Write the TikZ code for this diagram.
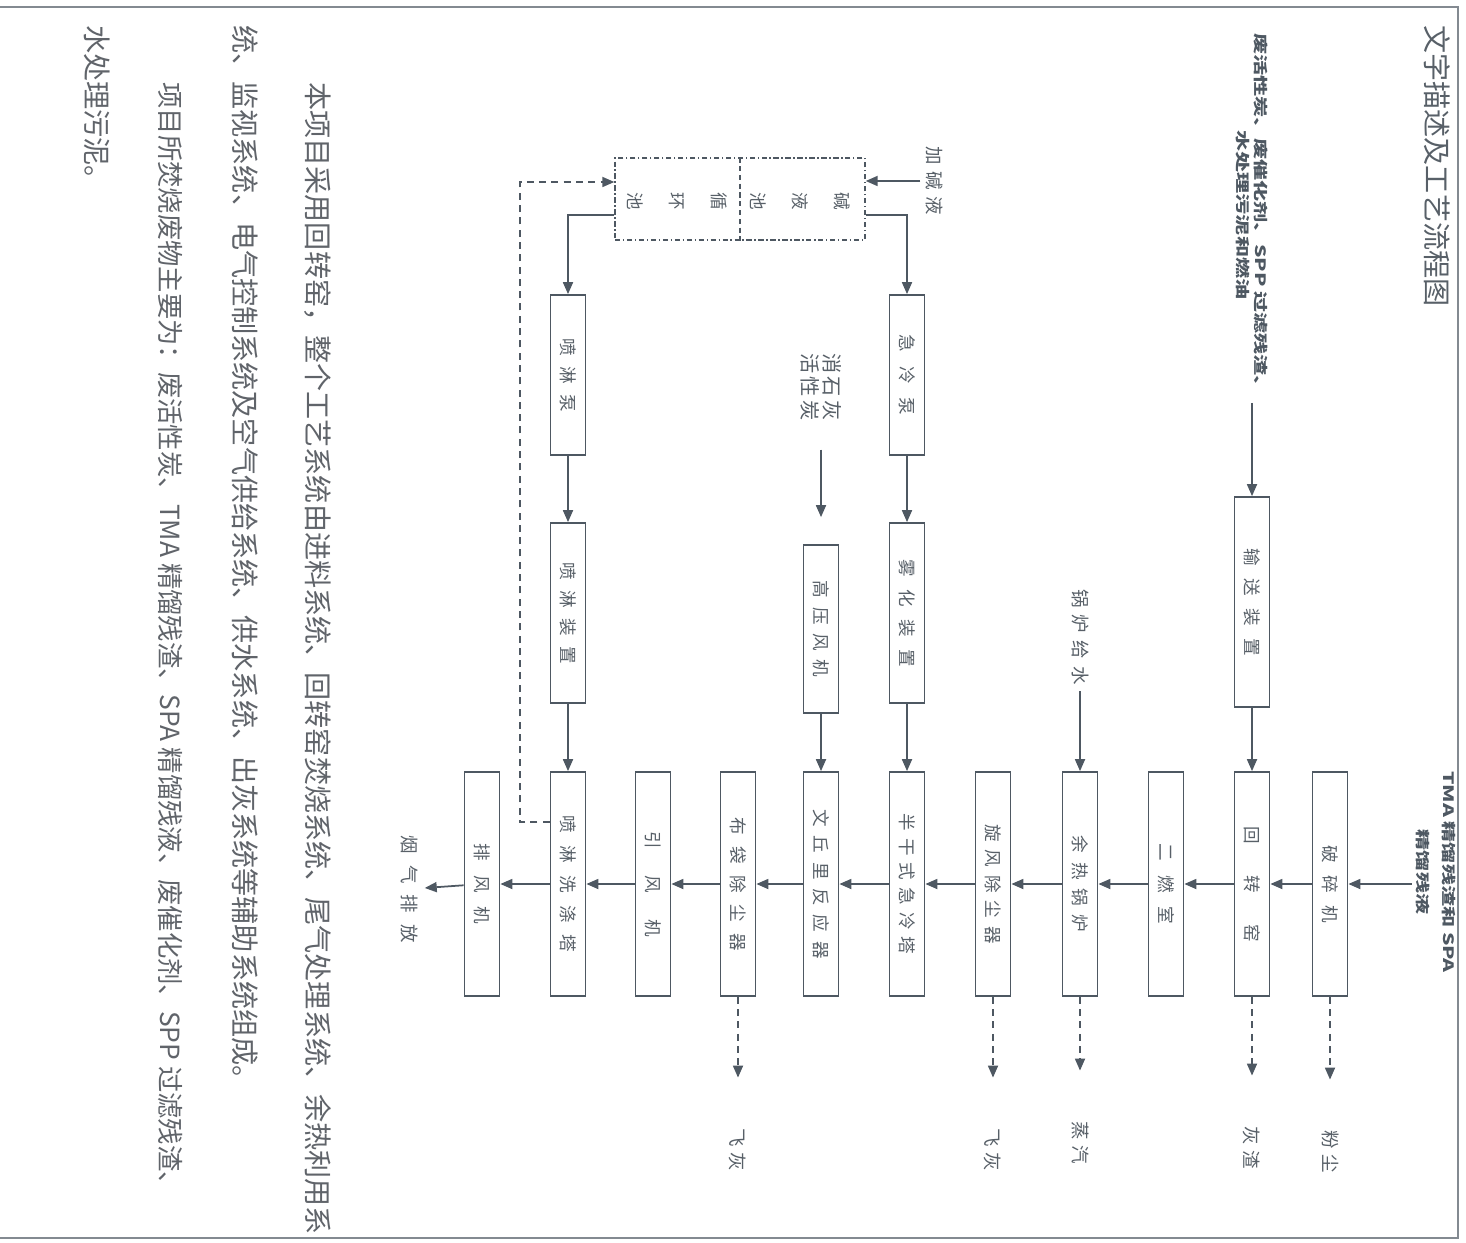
\documentclass[tikz,border=0pt]{standalone}
\usepackage{fontspec}
\setmainfont{Noto Sans CJK SC}
\usepackage{xcolor}
\usetikzlibrary{arrows.meta}
\definecolor{ink}{RGB}{78,88,98}
\definecolor{inktext}{RGB}{88,96,104}
\definecolor{bodytext}{RGB}{96,100,106}
\newcommand\gp[1]{\hspace{#1em}}

\begin{document}
\begin{tikzpicture}[x=0.02cm, y=-0.02cm,
  unit/.style={draw=ink, line width=1pt, rotate=-90, minimum height=0.7cm, inner sep=0pt, text=inktext, font=\fontsize{10}{12}\selectfont},
  flow/.style={draw=ink, line width=1pt, -{Triangle[length=2.4mm,width=2mm]}},
  outflow/.style={flow, dash pattern=on 4pt off 3pt, shorten >=0.9cm},
  lbl/.style={rotate=-90, text=inktext, font=\fontsize{10.5}{12}\selectfont},
  heavy/.style={rotate=-90, yscale=0.68, align=center, text=ink},
  para/.style={rotate=-90, anchor=west, inner sep=0pt, text=bodytext, font=\fontsize{16}{18}\selectfont}]
  \useasboundingbox (0,0) rectangle (1466,1243);
  \draw[ink!70, line width=0.8pt] (0,7) -- (1458,7) -- (1458,1238) -- (0,1238);

  \node[para, text=inktext] (title) at (1437,25) {文字描述及工艺流程图};

  \node[heavy, font=\bfseries\fontsize{12}{15}\selectfont] (flhx) at (1252,215) {废活性炭、废催化剂、SPP 过滤残渣、\\水处理污泥和燃油};
  \node[heavy, font=\bfseries\fontsize{12}{22}\selectfont] (tma) at (1436,872) {TMA 精馏残渣和 SPA\\精馏残液};

  \node[unit, minimum width=4.48cm] (pswj) at (1330,884) {破\gp{.7}碎\gp{.7}机};
  \node[unit, minimum width=4.48cm] (hzy) at (1252,884) {回\gp{1.8}转\gp{1.8}窑};
  \node[unit, minimum width=4.48cm] (erc) at (1166,884) {二\gp{.8}燃\gp{.8}室};
  \node[unit, minimum width=4.48cm] (yrgl) at (1080,884) {余\gp{.5}热\gp{.5}锅\gp{.5}炉};
  \node[unit, minimum width=4.48cm] (xfcc) at (993,884) {旋\gp{.45}风\gp{.45}除\gp{.45}尘\gp{.45}器};
  \node[unit, minimum width=4.48cm] (bgs) at (907,884) {半\gp{.4}干\gp{.4}式\gp{.4}急\gp{.4}冷\gp{.4}塔};
  \node[unit, minimum width=4.48cm] (wql) at (821,884) {文\gp{.5}丘\gp{.5}里\gp{.5}反\gp{.5}应\gp{.5}器};
  \node[unit, minimum width=4.48cm] (bdcc) at (738,884) {布\gp{.65}袋\gp{.65}除\gp{.65}尘\gp{.65}器};
  \node[unit, minimum width=4.48cm] (yfj) at (653,884) {引\gp{1.5}风\gp{1.5}机};
  \node[unit, minimum width=4.48cm] (plxd) at (568,884) {喷\gp{.7}淋\gp{.7}洗\gp{.7}涤\gp{.7}塔};
  \node[unit, minimum width=4.48cm] (pfj) at (482,884) {排\gp{.8}风\gp{.8}机};

  \node[unit, minimum width=4.2cm] (ssz) at (1252,602) {输\gp{.7}送\gp{.7}装\gp{.7}置};
  \node[unit, minimum width=3.2cm] (jlb) at (907,375) {急\gp{.8}冷\gp{.8}泵};
  \node[unit, minimum width=3.6cm] (whz) at (907,613) {雾\gp{.7}化\gp{.7}装\gp{.7}置};
  \node[unit, minimum width=3.36cm] (gyfj) at (821,629) {高\gp{.5}压\gp{.5}风\gp{.5}机};
  \node[unit, minimum width=3.2cm] (plb) at (568,375) {喷\gp{.6}淋\gp{.6}泵};
  \node[unit, minimum width=3.6cm] (plz) at (568,613) {喷\gp{.6}淋\gp{.6}装\gp{.6}置};

  \node[draw=ink, line width=0.8pt, dash pattern=on 3pt off 1.5pt on 0.8pt off 1.5pt, minimum width=5cm, minimum height=1.64cm, inner sep=0pt] (pool) at (740,199) {};
  \draw[ink, line width=0.8pt, dash pattern=on 3pt off 2pt] (pool.north) -- (pool.south);
  \node[lbl, align=center, font=\fontsize{10}{24}\selectfont] (jyc) at (800,201) {碱\\液\\池};
  \node[lbl, align=center, font=\fontsize{10}{24}\selectfont] (xhc) at (677,201) {循\\环\\池};

  \node[lbl] (jjy) at (935,181) {加\gp{.35}碱\gp{.35}液};
  \node[lbl, align=center, font=\fontsize{11.5}{12.5}\selectfont] (sshx) at (821,387) {消\gp{.15}石\gp{.15}灰\\活\gp{.15}性\gp{.15}炭};
  \node[lbl] (glgs) at (1080,637) {锅\gp{.4}炉\gp{.4}给\gp{.4}水};
  \node[lbl] (yqpf) at (410,889) {烟\gp{.6}气\gp{.6}排\gp{.6}放};

  \node[lbl] (fc) at (1330,1152) {粉\gp{.3}尘};
  \node[lbl] (hz) at (1252,1148) {灰\gp{.3}渣};
  \node[lbl] (zq) at (1080,1143) {蒸\gp{.3}汽};
  \node[lbl] (fh1) at (993,1150) {飞\gp{.3}灰};
  \node[lbl] (fh2) at (738,1150) {飞\gp{.3}灰};

  \draw[flow] (tma.south |- pswj) -- (pswj);
  \draw[flow] (pswj) -- (hzy);
  \draw[flow] (hzy) -- (erc);
  \draw[flow] (erc) -- (yrgl);
  \draw[flow] (yrgl) -- (xfcc);
  \draw[flow] (xfcc) -- (bgs);
  \draw[flow] (bgs) -- (wql);
  \draw[flow] (wql) -- (bdcc);
  \draw[flow] (bdcc) -- (yfj);
  \draw[flow] (yfj) -- (plxd);
  \draw[flow] (plxd) -- (pfj);
  \draw[flow] (pfj) -- (yqpf);

  \draw[flow] (flhx) -- (ssz);
  \draw[flow] (ssz) -- (hzy);
  \draw[flow] (glgs) -- (yrgl);
  \draw[flow] (jlb) -- (whz);
  \draw[flow] (whz) -- (bgs);
  \draw[flow, shorten <=0.46cm, shorten >=0.54cm] (sshx) -- (gyfj);
  \draw[flow] (gyfj) -- (wql);
  \draw[flow] (plb) -- (plz);
  \draw[flow] (plz) -- (plxd);

  \draw[flow] (jjy.south) -- (jjy.south -| pool.east);
  \draw[flow] ([yshift=-0.32cm]pool.east) -| (jlb);
  \draw[flow] ([yshift=-0.32cm]pool.west) -| (plb);
  \coordinate (rtn1) at (520,822);
  \coordinate (rtn2) at (520,182);
  \draw[flow, dash pattern=on 4pt off 3pt] (rtn1 -| plxd.south) -- (rtn1) -- (rtn2) -- (rtn2 -| pool.west);

  \draw[outflow] (pswj) -- (fc);
  \draw[outflow] (hzy) -- (hz);
  \draw[outflow] (yrgl) -- (zq);
  \draw[outflow] (xfcc) -- (fh1);
  \draw[outflow] (bdcc) -- (fh2);

  \node[para] (txta) at (318,82) {本项目采用回转窑，整个工艺系统由进料系统、回转窑焚烧系统、尾气处理系统、余热利用系};
  \node[para] (txtb) at (245,25) {统、监视系统、电气控制系统及空气供给系统、供水系统、出灰系统等辅助系统组成。};
  \node[para, font=\fontsize{15}{18}\selectfont] (txtc) at (170,82) {项目所焚烧废物主要为：废活性炭、TMA 精馏残渣、SPA 精馏残液、废催化剂、SPP 过滤残渣、};
  \node[para] (txtd) at (97,25) {水处理污泥。};
\end{tikzpicture}
\end{document}
